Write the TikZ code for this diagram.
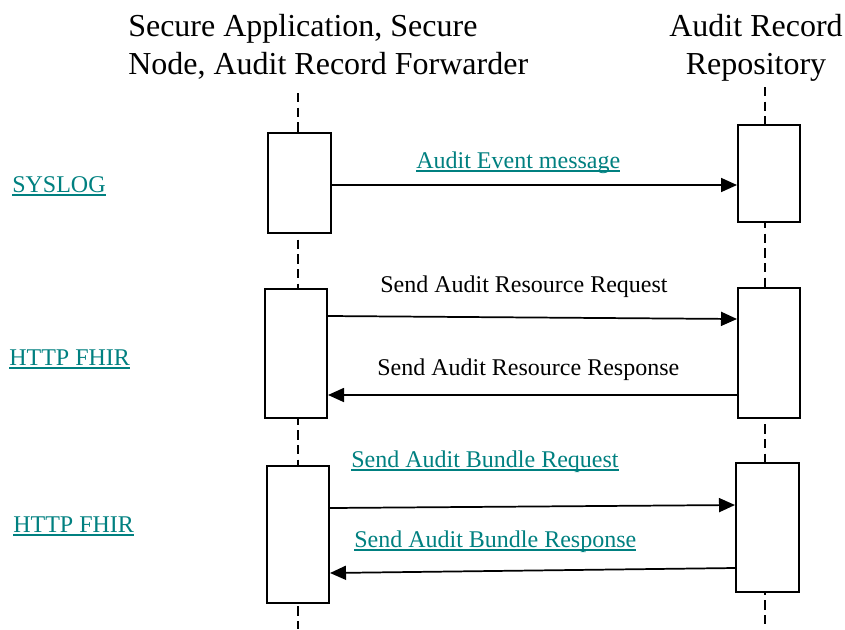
\documentclass[tikz,border=0pt]{standalone}
\usepackage{fontspec}
\setmainfont{Liberation Serif}
\usetikzlibrary{arrows.meta,fit}
\definecolor{linkteal}{RGB}{0,128,128}
\newcommand{\linktext}[1]{\textcolor{linkteal}{\setbox0\hbox{#1}\rlap{\rule[-3pt]{\wd0}{1.2pt}}\box0}}
\begin{document}
\begin{tikzpicture}[x=0.75pt,y=-0.75pt,
  actbox/.style={draw, line width=1.5pt, fill=white, inner sep=0pt},
  lifeline/.style={line width=1.5pt, dash pattern=on 7pt off 4pt},
  msg/.style={line width=1.3pt, -{Triangle[length=12pt,width=10.5pt]}},
  hdr/.style={font=\fontsize{24}{28.5}\selectfont, inner sep=0pt},
  lbl/.style={font=\fontsize{18}{21}\selectfont, inner sep=0pt, anchor=base west},
]
\useasboundingbox (0,0) rectangle (845,629);

% headers (base anchor = baseline of the last line)
\node[hdr, anchor=base west, align=left] (srcHdr) at (128,74) {Secure Application, Secure\\Node, Audit Record Forwarder};
\node[hdr, anchor=base, align=center] (repoHdr) at (756,74) {Audit Record\\Repository};

% lifelines
\coordinate (srcTop) at (298,93);
\coordinate (srcBot) at (298,629);
\coordinate (repoTop) at (765,87);
\coordinate (repoBot) at (765,629);
\draw[lifeline] (srcTop) -- (srcBot);
\draw[lifeline] (repoTop) -- (repoBot);

% activation boxes
\node[actbox, fit={(268,133) (331,233)}] (L1) {};
\node[actbox, fit={(738,125) (800,222)}] (R1) {};
\node[actbox, fit={(265,289) (327,418)}] (L2) {};
\node[actbox, fit={(738,288) (800,418)}] (R2) {};
\node[actbox, fit={(267,466) (329,603)}] (L3) {};
\node[actbox, fit={(736,463) (799,592)}] (R3) {};

% messages
\draw[msg] (L1.east |- 0,185) -- (R1.west |- 0,185);
\draw[msg] (L2.east |- 0,316) -- (R2.west |- 0,319);
\draw[msg] (R2.west |- 0,395) -- (L2.east |- 0,395);
\draw[msg] (L3.east |- 0,508) -- (R3.west |- 0,505);
\draw[msg] (R3.west |- 0,568) -- (L3.east |- 0,573);

% message labels
\node[lbl] (m1) at (416,168) {\linktext{Audit Event message}};
\node[lbl] (m2) at (380,292) {Send Audit Resource Request};
\node[lbl] (m3) at (377,375) {Send Audit Resource Response};
\node[lbl] (m4) at (351,467) {\linktext{Send Audit Bundle Request}};
\node[lbl] (m5) at (354,547) {\linktext{Send Audit Bundle Response}};

% protocol labels
\node[lbl] (p1) at (12,192) {\linktext{SYSLOG}};
\node[lbl] (p2) at (9,365) {\linktext{HTTP FHIR}};
\node[lbl] (p3) at (13,532) {\linktext{HTTP FHIR}};
\end{tikzpicture}
\end{document}
